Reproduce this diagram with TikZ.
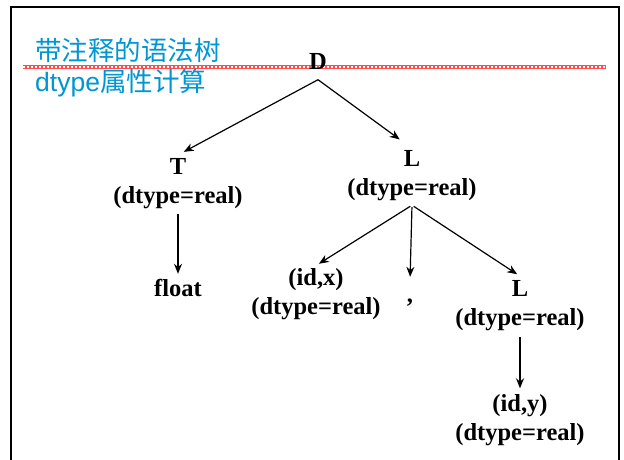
\documentclass[tikz,border=0pt]{standalone}
\usepackage{fontspec}
\setmainfont{Liberation Serif}
\newfontfamily\cjk{Noto Sans CJK SC}
\newfontfamily\lsans{Liberation Sans}
\usetikzlibrary{arrows.meta}
\definecolor{titleblue}{RGB}{0,150,210}
\begin{document}
\begin{tikzpicture}[x=1pt,y=-1pt,
  tn/.style={font=\fontsize{24.5}{29}\selectfont\bfseries, align=center, inner sep=1pt},
  arr/.style={-{Stealth[length=10pt,width=8pt]}, line width=1.2pt},
  ttl/.style={text=titleblue, font=\fontsize{26.5}{28}\selectfont, anchor=west, inner sep=0pt}]
\useasboundingbox (0,0) rectangle (624,459);
\fill[white] (0,0) rectangle (624,459);
% frame
\draw[line width=2pt] (11,462) -- (11,7) -- (619,7) -- (619,462);
% red chain line
\draw[red!70, line width=3.5pt] (23,67) -- (606,67);
\draw[white, line width=1.2pt, dash pattern=on 1.8pt off 2.2pt] (23,67) -- (606,67);
% titles
\node[ttl] (t1) at (35,50) {\cjk 带注释的语法树};
\node[ttl] (t2) at (35,83) {\lsans dtype\cjk 属性计算};
% tree
\node[tn] (D) at (318,64) {\strut D};
\node[tn] (T) at (178,183) {\strut T\\\strut(dtype=real)};
\node[tn] (L1) at (412,175) {\strut L\\\strut(dtype=real)};
\node[tn] (F) at (178,290.5) {\strut float};
\node[tn] (IX) at (316,294.5) {\strut(id,x)\\\strut(dtype=real)};
\node[tn] (C) at (410,296.5) {\strut ,};
\node[tn] (L2) at (520,305) {\strut L\\\strut(dtype=real)};
\node[tn] (IY) at (520,420.5) {\strut(id,y)\\\strut(dtype=real)};
% connectors
\draw[arr, shorten >=2pt] (D.south) -- ([xshift=4pt]T.north);
\draw[arr, shorten >=9pt] (D.south) -- ([xshift=-5pt]L1.north);
\draw[arr, shorten <=1pt, shorten >=1pt] (T.south) -- (F.north);
\draw[arr, shorten <=2pt, shorten >=1pt] (L1.south) -- ([xshift=2pt]IX.north);
\draw[arr, shorten <=2pt, shorten >=4pt] (L1.south) -- (C.north);
\draw[arr, shorten <=2pt, shorten >=1pt] (L1.south) -- ([xshift=-2pt]L2.north);
\draw[arr, shorten <=2pt, shorten >=2pt] (L2.south) -- (IY.north);
\end{tikzpicture}
\end{document}
